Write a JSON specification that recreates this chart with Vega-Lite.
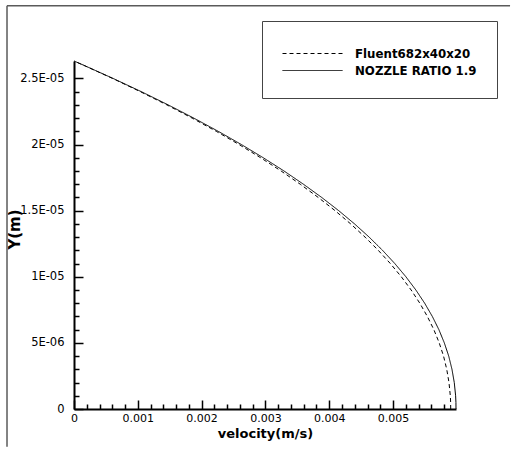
{
  "$schema": "https://vega.github.io/schema/vega-lite/v6.json",
  "width": 382,
  "height": 348,
  "autosize": {"type": "none"},
  "padding": {"left": 74, "top": 61, "right": 59, "bottom": 48},
  "background": "white",
  "config": {"view": {"stroke": null}, "font": "DejaVu Sans"},
  "data": {
    "values": [
      {"series": "NOZZLE RATIO 1.9", "v": 0.005987, "y": 0},
      {"series": "NOZZLE RATIO 1.9", "v": 0.005986, "y": 5e-7},
      {"series": "NOZZLE RATIO 1.9", "v": 0.005981, "y": 1e-6},
      {"series": "NOZZLE RATIO 1.9", "v": 0.00596, "y": 2e-6},
      {"series": "NOZZLE RATIO 1.9", "v": 0.005924, "y": 3e-6},
      {"series": "NOZZLE RATIO 1.9", "v": 0.005873, "y": 4e-6},
      {"series": "NOZZLE RATIO 1.9", "v": 0.005804, "y": 5e-6},
      {"series": "NOZZLE RATIO 1.9", "v": 0.005719, "y": 6e-6},
      {"series": "NOZZLE RATIO 1.9", "v": 0.005616, "y": 7e-6},
      {"series": "NOZZLE RATIO 1.9", "v": 0.005496, "y": 8e-6},
      {"series": "NOZZLE RATIO 1.9", "v": 0.005358, "y": 9e-6},
      {"series": "NOZZLE RATIO 1.9", "v": 0.005202, "y": 1e-5},
      {"series": "NOZZLE RATIO 1.9", "v": 0.005028, "y": 1.1e-5},
      {"series": "NOZZLE RATIO 1.9", "v": 0.004836, "y": 1.2e-5},
      {"series": "NOZZLE RATIO 1.9", "v": 0.004626, "y": 1.3e-5},
      {"series": "NOZZLE RATIO 1.9", "v": 0.004397, "y": 1.4e-5},
      {"series": "NOZZLE RATIO 1.9", "v": 0.004149, "y": 1.5e-5},
      {"series": "NOZZLE RATIO 1.9", "v": 0.003882, "y": 1.6e-5},
      {"series": "NOZZLE RATIO 1.9", "v": 0.003596, "y": 1.7e-5},
      {"series": "NOZZLE RATIO 1.9", "v": 0.003292, "y": 1.8e-5},
      {"series": "NOZZLE RATIO 1.9", "v": 0.002967, "y": 1.9e-5},
      {"series": "NOZZLE RATIO 1.9", "v": 0.002624, "y": 2e-5},
      {"series": "NOZZLE RATIO 1.9", "v": 0.002261, "y": 2.1e-5},
      {"series": "NOZZLE RATIO 1.9", "v": 0.001878, "y": 2.2e-5},
      {"series": "NOZZLE RATIO 1.9", "v": 0.001476, "y": 2.3e-5},
      {"series": "NOZZLE RATIO 1.9", "v": 0.001055, "y": 2.4e-5},
      {"series": "NOZZLE RATIO 1.9", "v": 0.000613, "y": 2.5e-5},
      {"series": "NOZZLE RATIO 1.9", "v": 0.000152, "y": 2.6e-5},
      {"series": "NOZZLE RATIO 1.9", "v": 0, "y": 2.632e-5},
      {"series": "Fluent682x40x20", "v": 0.005904, "y": 0},
      {"series": "Fluent682x40x20", "v": 0.005903, "y": 5e-7},
      {"series": "Fluent682x40x20", "v": 0.005898, "y": 1e-6},
      {"series": "Fluent682x40x20", "v": 0.005877, "y": 2e-6},
      {"series": "Fluent682x40x20", "v": 0.005842, "y": 3e-6},
      {"series": "Fluent682x40x20", "v": 0.005792, "y": 4e-6},
      {"series": "Fluent682x40x20", "v": 0.005724, "y": 5e-6},
      {"series": "Fluent682x40x20", "v": 0.00564, "y": 6e-6},
      {"series": "Fluent682x40x20", "v": 0.005538, "y": 7e-6},
      {"series": "Fluent682x40x20", "v": 0.00542, "y": 8e-6},
      {"series": "Fluent682x40x20", "v": 0.005284, "y": 9e-6},
      {"series": "Fluent682x40x20", "v": 0.00513, "y": 1e-5},
      {"series": "Fluent682x40x20", "v": 0.004958, "y": 1.1e-5},
      {"series": "Fluent682x40x20", "v": 0.004769, "y": 1.2e-5},
      {"series": "Fluent682x40x20", "v": 0.004562, "y": 1.3e-5},
      {"series": "Fluent682x40x20", "v": 0.004336, "y": 1.4e-5},
      {"series": "Fluent682x40x20", "v": 0.004092, "y": 1.5e-5},
      {"series": "Fluent682x40x20", "v": 0.003828, "y": 1.6e-5},
      {"series": "Fluent682x40x20", "v": 0.003546, "y": 1.7e-5},
      {"series": "Fluent682x40x20", "v": 0.003246, "y": 1.8e-5},
      {"series": "Fluent682x40x20", "v": 0.002926, "y": 1.9e-5},
      {"series": "Fluent682x40x20", "v": 0.002588, "y": 2e-5},
      {"series": "Fluent682x40x20", "v": 0.00223, "y": 2.1e-5},
      {"series": "Fluent682x40x20", "v": 0.001852, "y": 2.2e-5},
      {"series": "Fluent682x40x20", "v": 0.001456, "y": 2.3e-5},
      {"series": "Fluent682x40x20", "v": 0.00104, "y": 2.4e-5},
      {"series": "Fluent682x40x20", "v": 0.000605, "y": 2.5e-5},
      {"series": "Fluent682x40x20", "v": 0.00015, "y": 2.6e-5},
      {"series": "Fluent682x40x20", "v": 0, "y": 2.632e-5}
    ]
  },
  "layer": [
    {
      "mark": {"type": "line", "color": "black", "strokeWidth": 1},
      "encoding": {
        "x": {
          "field": "v",
          "type": "quantitative",
          "scale": {"domain": [0, 0.005987], "nice": false, "zero": false},
          "axis": {
            "orient": "bottom",
            "values": [0, 0.001, 0.002, 0.003, 0.004, 0.005],
            "format": ".3~f",
            "labelFlush": false,
            "labelOverlap": false,
            "grid": false,
            "tickSize": -9,
            "tickWidth": 1.5,
            "tickColor": "black",
            "domainColor": "black",
            "domainWidth": 2,
            "labelFont": "DejaVu Sans",
            "labelFontSize": 11,
            "labelColor": "black",
            "labelPadding": 12,
            "title": "velocity(m/s)",
            "titleFont": "DejaVu Sans",
            "titleFontSize": 13,
            "titleFontWeight": "bold",
            "titleColor": "black",
            "titleBaseline": "alphabetic",
            "titleY": 28
          }
        },
        "y": {
          "field": "y",
          "type": "quantitative",
          "scale": {"domain": [0, 2.632e-5], "nice": false, "zero": false},
          "axis": {
            "orient": "left",
            "values": [0, 5e-6, 1e-5, 1.5e-5, 2e-5, 2.5e-5],
            "labelExpr": "datum.value == 0 ? '0' : datum.value < 9e-6 ? '5E-06' : datum.value < 1.2e-5 ? '1E-05' : datum.value < 1.7e-5 ? '1.5E-05' : datum.value < 2.2e-5 ? '2E-05' : '2.5E-05'",
            "labelFlush": false,
            "labelOverlap": false,
            "grid": false,
            "tickSize": -9,
            "tickWidth": 1.5,
            "tickColor": "black",
            "domainColor": "black",
            "domainWidth": 2,
            "labelFont": "DejaVu Sans",
            "labelFontSize": 11.5,
            "labelColor": "black",
            "labelPadding": 19,
            "title": "Y(m)",
            "titleFont": "DejaVu Sans",
            "titleFontSize": 15,
            "titleFontWeight": "bold",
            "titleColor": "black",
            "titleAngle": -90,
            "titleAlign": "center",
            "titleBaseline": "middle",
            "titleX": -60,
            "titleY": 168
          }
        },
        "strokeDash": {
          "field": "series",
          "type": "nominal",
          "scale": {"domain": ["Fluent682x40x20", "NOZZLE RATIO 1.9"], "range": [[4, 3], [1, 0]]},
          "legend": {
            "orient": "none",
            "legendX": 188,
            "legendY": -40,
            "title": " ",
            "titleFontSize": 6,
            "titlePadding": 0,
            "padding": 20,
            "strokeColor": "#444444",
            "fillColor": "white",
            "symbolType": "M-1,0H9",
            "symbolSize": 144,
            "symbolStrokeWidth": 1,
            "symbolStrokeColor": "black",
            "symbolFillColor": "transparent",
            "labelFont": "DejaVu Sans",
            "labelFontWeight": "bold",
            "labelFontSize": 11.8,
            "labelColor": "black",
            "labelOffset": 60,
            "rowPadding": 3
          }
        },
        "order": {"field": "y", "type": "quantitative"}
      }
    },
    {
      "data": {"values": [{"frame": "left"}]},
      "mark": {"type": "rule", "color": "#5a5a5a", "strokeWidth": 1.5},
      "encoding": {
        "x": {
          "datum": -0.00105,
          "type": "quantitative",
          "axis": {
            "orient": "bottom",
            "values": [0.0002, 0.0004, 0.0006, 0.0008, 0.0012, 0.0014, 0.0016, 0.0018, 0.0022, 0.0024, 0.0026, 0.0028, 0.0032, 0.0034, 0.0036, 0.0038, 0.0042, 0.0044, 0.0046, 0.0048, 0.0052, 0.0054, 0.0056, 0.0058],
            "labels": false,
            "domain": false,
            "grid": false,
            "tickSize": -5,
            "tickWidth": 1.5,
            "tickColor": "black",
            "title": null
          }
        },
        "y": {
          "datum": 3.0506e-5,
          "type": "quantitative",
          "axis": {
            "orient": "left",
            "values": [1e-6, 2e-6, 3e-6, 4e-6, 6e-6, 7e-6, 8e-6, 9e-6, 1.1e-5, 1.2e-5, 1.3e-5, 1.4e-5, 1.6e-5, 1.7e-5, 1.8e-5, 1.9e-5, 2.1e-5, 2.2e-5, 2.3e-5, 2.4e-5],
            "labels": false,
            "domain": false,
            "grid": false,
            "tickSize": -5,
            "tickWidth": 1.5,
            "tickColor": "black",
            "title": null
          }
        },
        "y2": {"datum": -2.85e-6}
      }
    },
    {
      "data": {"values": [{"frame": "top"}]},
      "mark": {"type": "rule", "color": "#5a5a5a", "strokeWidth": 1.5},
      "encoding": {
        "x": {"datum": -0.00105, "type": "quantitative", "axis": null},
        "x2": {"datum": 0.006834},
        "y": {"datum": 3.0506e-5, "type": "quantitative", "axis": null}
      }
    }
  ],
  "resolve": {"axis": {"x": "independent", "y": "independent"}}
}
